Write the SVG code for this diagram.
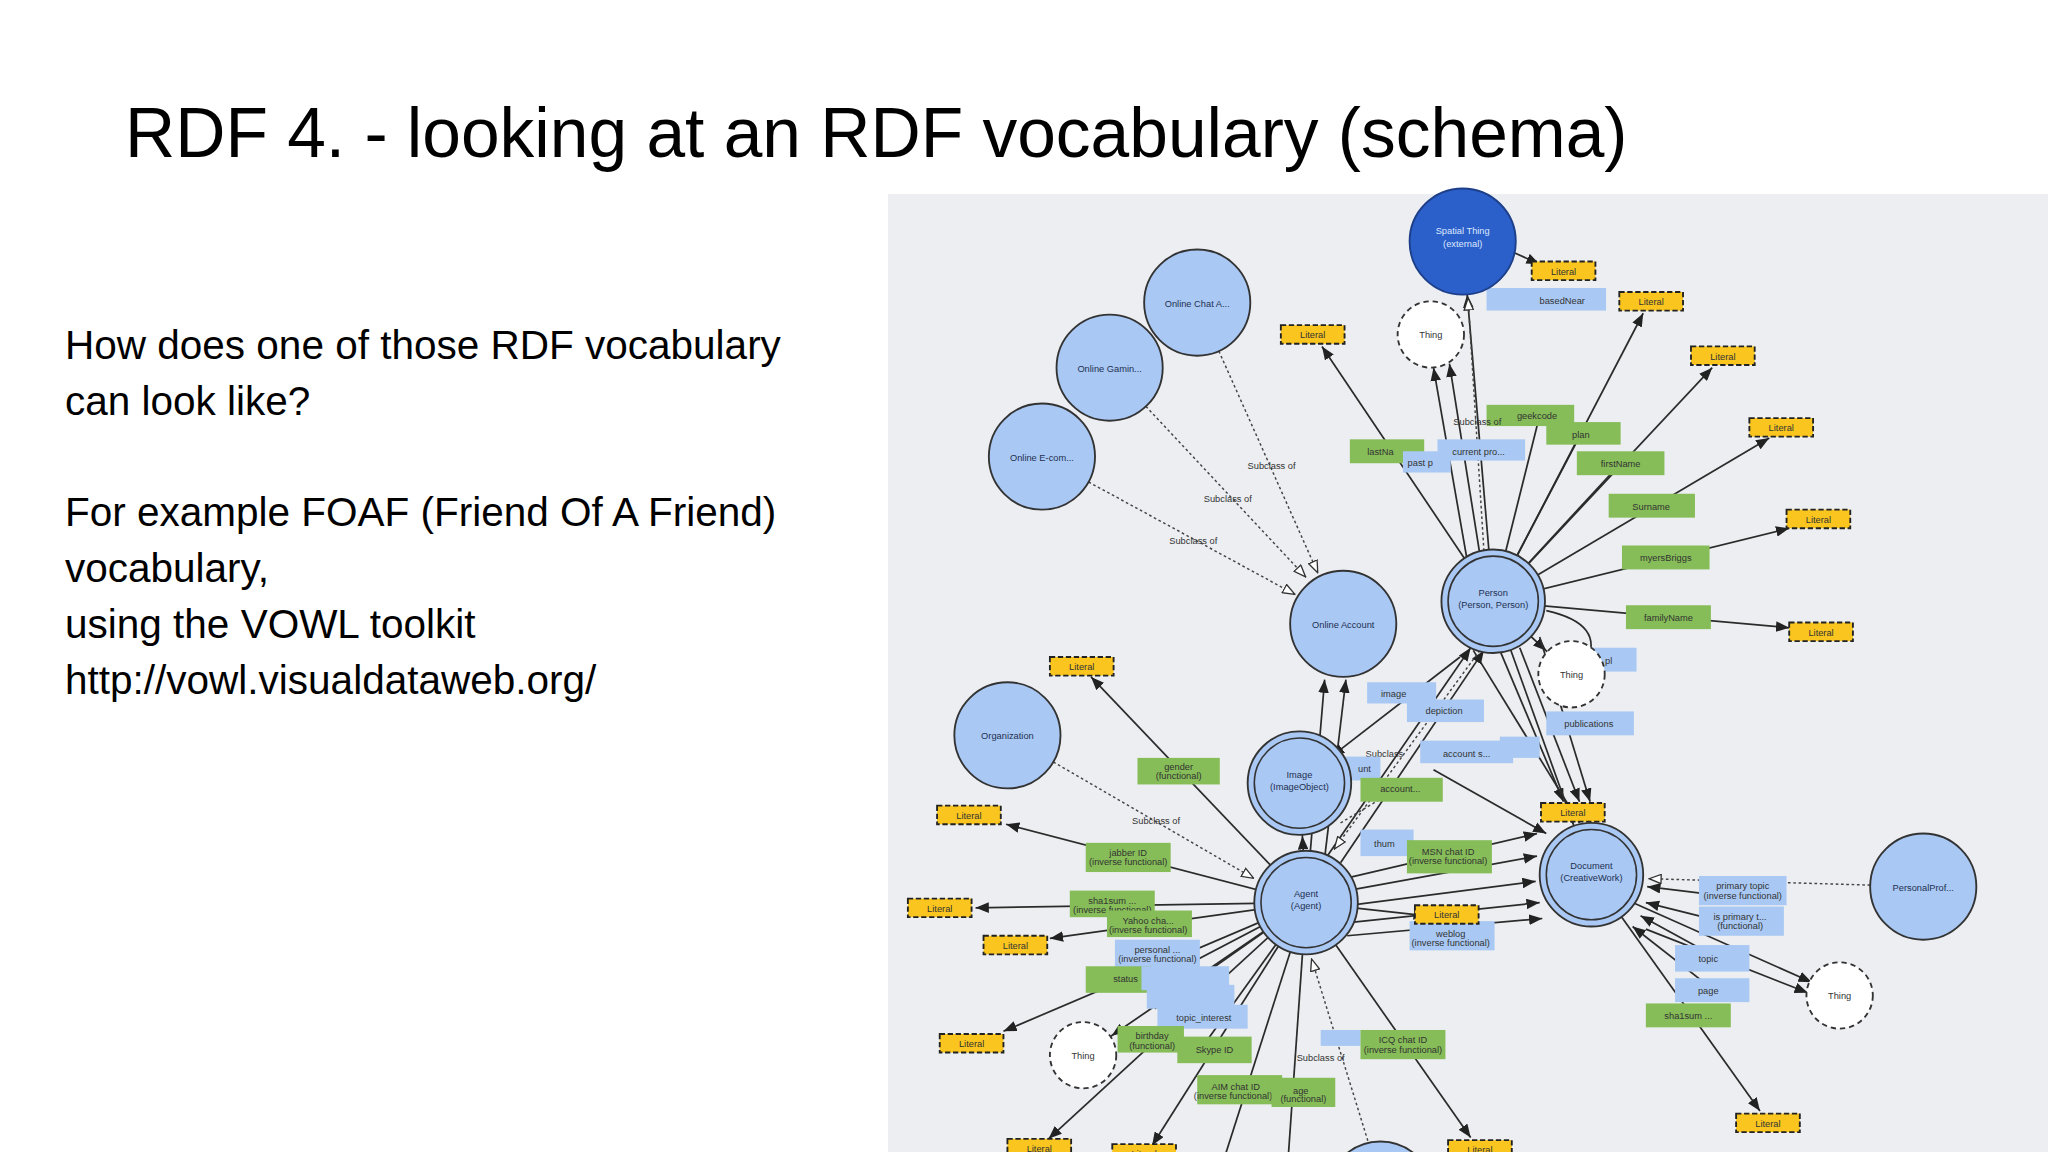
<svg xmlns="http://www.w3.org/2000/svg" width="2048" height="1152" viewBox="0 0 2048 1152">
<style>
.t{font-family:"Liberation Sans",Arial,sans-serif;fill:#000}
.nt{font-family:"Liberation Sans",Arial,sans-serif;fill:#1f3050;font-size:7px;text-anchor:middle}
.st{font-family:"Liberation Sans",Arial,sans-serif;fill:#333;font-size:7px;text-anchor:middle}
.c{fill:#a9c8f4;stroke:#333;stroke-width:1.4}
.th{fill:#fff;stroke:#333;stroke-width:1.4;stroke-dasharray:4 3}
.lit{fill:#f9c51e;stroke:#222;stroke-width:1.4;stroke-dasharray:4 2}
.pb{fill:#a9c9f4}
.pg{fill:#86bd58}
.e{stroke:#2b2b2b;stroke-width:1.3;fill:none}
.d{stroke:#444;stroke-width:1.1;fill:none;stroke-dasharray:2 2}
</style>
<defs>
<marker id="aC" markerUnits="userSpaceOnUse" markerWidth="10" markerHeight="8" refX="50" refY="4" orient="auto"><path d="M0,0 L10,4 L0,8 z" fill="#222"/></marker>
<marker id="aT" markerUnits="userSpaceOnUse" markerWidth="10" markerHeight="8" refX="36" refY="4" orient="auto"><path d="M0,0 L10,4 L0,8 z" fill="#222"/></marker>
<marker id="a" markerUnits="userSpaceOnUse" markerWidth="10" markerHeight="8" refX="10" refY="4" orient="auto"><path d="M0,0 L10,4 L0,8 z" fill="#222"/></marker>
<marker id="o" markerUnits="userSpaceOnUse" markerWidth="10" markerHeight="8" refX="10" refY="4" orient="auto"><path d="M0.5,0.5 L9.5,4 L0.5,7.5 z" fill="#fff" stroke="#333" stroke-width="1"/></marker>
</defs>
<rect width="2048" height="1152" fill="#fff"/>
<text class="t" x="125" y="157" font-size="69.5">RDF 4. - looking at an RDF vocabulary (schema)</text>
<g class="t" font-size="40.5">
<text x="65" y="359">How does one of those RDF vocabulary</text>
<text x="65" y="415">can look like?</text>
<text x="65" y="526">For example FOAF (Friend Of A Friend)</text>
<text x="65" y="582">vocabulary,</text>
<text x="65" y="638">using the VOWL toolkit</text>
<text x="65" y="694">http://vowl.visualdataweb.org/</text>
</g>
<rect x="888" y="194" width="1160" height="958" fill="#eceef1"/>
<g transform="scale(1.3273)">
<g id="connectors">
<line class="e" x1="1125" y1="453" x2="1102" y2="182" marker-end="url(#aC)"/>
<path class="d" d="M1118,415 L1106,224" marker-end="url(#o)"/>
<line class="e" x1="1140" y1="190" x2="1160" y2="199" marker-end="url(#a)"/>
<line class="e" x1="1125" y1="453" x2="1238" y2="236" marker-end="url(#a)"/>
<line class="e" x1="1125" y1="453" x2="1290" y2="277" marker-end="url(#a)"/>
<line class="e" x1="1125" y1="453" x2="1333" y2="330" marker-end="url(#a)"/>
<line class="e" x1="1125" y1="453" x2="1348" y2="398" marker-end="url(#a)"/>
<line class="e" x1="1125" y1="453" x2="1348" y2="473" marker-end="url(#a)"/>
<line class="e" x1="1125" y1="453" x2="996" y2="261" marker-end="url(#a)"/>
<line class="e" x1="1105" y1="420" x2="1080" y2="277" marker-end="url(#a)"/>
<line class="e" x1="1115" y1="418" x2="1092" y2="274" marker-end="url(#a)"/>
<line class="e" x1="1125" y1="453" x2="1160" y2="313"/>
<line class="e" x1="1125" y1="453" x2="1191" y2="327"/>
<line class="e" x1="1125" y1="453" x2="1221" y2="349"/>
<line class="e" x1="1125" y1="453" x2="1184" y2="508" marker-end="url(#aT)"/>
<path class="e" d="M1165,460 Q1210,470 1195,500"/>
<line class="e" x1="1130" y1="490" x2="1178" y2="604" marker-end="url(#a)"/>
<line class="e" x1="1145" y1="488" x2="1190" y2="604" marker-end="url(#a)"/>
<line class="e" x1="1160" y1="480" x2="1198" y2="604" marker-end="url(#a)"/>
<line class="e" x1="1125" y1="453" x2="1199" y2="659" marker-end="url(#aC)"/>
<line class="e" x1="1110" y1="490" x2="1190" y2="620"/>
<line class="e" x1="984" y1="680" x2="998" y2="512" marker-end="url(#a)"/>
<line class="e" x1="994" y1="680" x2="1014" y2="512" marker-end="url(#a)"/>
<line class="e" x1="1000" y1="645" x2="1108" y2="488" marker-end="url(#a)"/>
<line class="e" x1="1010" y1="650" x2="1118" y2="490" marker-end="url(#a)"/>
<line class="e" x1="1100" y1="495" x2="1003" y2="570" marker-end="url(#a)"/>
<path class="d" d="M1115,490 L1005,640" marker-end="url(#o)"/>
<line class="e" x1="984" y1="680" x2="979" y2="590" marker-end="url(#aC)"/>
<line class="e" x1="984" y1="680" x2="822" y2="510" marker-end="url(#a)"/>
<line class="e" x1="984" y1="680" x2="758" y2="621" marker-end="url(#a)"/>
<line class="e" x1="984" y1="680" x2="735" y2="684" marker-end="url(#a)"/>
<line class="e" x1="984" y1="680" x2="791" y2="707" marker-end="url(#a)"/>
<line class="e" x1="984" y1="680" x2="756" y2="777" marker-end="url(#a)"/>
<line class="e" x1="984" y1="680" x2="816" y2="795" marker-end="url(#aT)"/>
<line class="e" x1="984" y1="680" x2="790" y2="858" marker-end="url(#a)"/>
<line class="e" x1="984" y1="680" x2="868" y2="863" marker-end="url(#a)"/>
<line class="e" x1="984" y1="680" x2="1108" y2="857" marker-end="url(#a)"/>
<line class="e" x1="984" y1="680" x2="1075" y2="690" marker-end="url(#a)"/>
<line class="e" x1="984" y1="680" x2="920" y2="880"/>
<line class="e" x1="984" y1="680" x2="970" y2="880"/>
<line class="e" x1="984" y1="680" x2="860" y2="745"/>
<line class="e" x1="984" y1="680" x2="870" y2="760"/>
<line class="e" x1="984" y1="680" x2="905" y2="790"/>
<line class="e" x1="1000" y1="665" x2="1158" y2="628" marker-end="url(#a)"/>
<line class="e" x1="1010" y1="672" x2="1158" y2="645" marker-end="url(#a)"/>
<line class="e" x1="1018" y1="682" x2="1157" y2="664" marker-end="url(#a)"/>
<line class="e" x1="1018" y1="695" x2="1160" y2="680" marker-end="url(#a)"/>
<line class="e" x1="1015" y1="705" x2="1162" y2="692" marker-end="url(#a)"/>
<line class="e" x1="1080" y1="580" x2="1165" y2="628" marker-end="url(#a)"/>
<path class="d" d="M759,554 L945,662" marker-end="url(#o)"/>
<path class="d" d="M1040,890 L988,722" marker-end="url(#o)"/>
<path class="d" d="M902,228 L993,432" marker-end="url(#o)"/>
<path class="d" d="M836,277 L984,435" marker-end="url(#o)"/>
<path class="d" d="M785,344 L976,448" marker-end="url(#o)"/>
<path class="d" d="M1449,668 L1242,662" marker-end="url(#o)"/>
<path class="d" d="M1010,620 L1060,590"/>
<line class="e" x1="1230" y1="680" x2="1365" y2="740" marker-end="url(#a)"/>
<line class="e" x1="1240" y1="700" x2="1362" y2="748" marker-end="url(#a)"/>
<line class="e" x1="1199" y1="659" x2="1326" y2="837" marker-end="url(#a)"/>
<line class="e" x1="1340" y1="680" x2="1241" y2="668" marker-end="url(#a)"/>
<line class="e" x1="1320" y1="700" x2="1240" y2="680" marker-end="url(#a)"/>
<line class="e" x1="1300" y1="725" x2="1236" y2="690" marker-end="url(#a)"/>
<line class="e" x1="1290" y1="745" x2="1230" y2="698" marker-end="url(#a)"/>
</g>
<g id="properties">
<rect class="pg" x="1120" y="305" width="66" height="16"/><text class="st" x="1158" y="316">geekcode</text>
<rect class="pg" x="1165" y="318" width="56" height="17"/><text class="st" x="1191" y="330">plan</text>
<rect class="pg" x="1188" y="340" width="66" height="18"/><text class="st" x="1221" y="352">firstName</text>
<rect class="pg" x="1212" y="372" width="65" height="18"/><text class="st" x="1244" y="384">Surname</text>
<rect class="pg" x="1222" y="411" width="66" height="18"/><text class="st" x="1255" y="423">myersBriggs</text>
<rect class="pg" x="1225" y="456" width="64" height="18"/><text class="st" x="1257" y="468">familyName</text>
<rect class="pg" x="1017" y="331" width="56" height="18"/><text class="st" x="1040" y="343">lastNa</text>
<rect class="pb" x="1057" y="340" width="36" height="16"/><text class="st" x="1070" y="351">past p</text>
<rect class="pb" x="1083" y="331" width="66" height="16"/><text class="st" x="1114" y="343">current pro...</text>
<text class="st" x="1113" y="320">Subclass of</text>
<rect class="pb" x="1120" y="217" width="90" height="17"/><text class="st" x="1177" y="229">basedNear</text>
<rect class="pb" x="1195" y="488" width="38" height="18"/><text class="st" x="1212" y="500">pl</text>
<rect class="pb" x="1030" y="514" width="52" height="16"/><text class="st" x="1050" y="525">image</text>
<rect class="pb" x="1060" y="527" width="58" height="17"/><text class="st" x="1088" y="538">depiction</text>
<rect class="pb" x="1165" y="536" width="66" height="18"/><text class="st" x="1197" y="548">publications</text>
<rect class="pb" x="1070" y="558" width="70" height="17"/><text class="st" x="1105" y="570">account s...</text>
<rect class="pb" x="1130" y="555" width="30" height="16"/>
<text class="st" x="1043" y="570">Subclass</text>
<rect class="pb" x="1010" y="570" width="30" height="18"/><text class="st" x="1028" y="582">unt</text>
<rect class="pg" x="1025" y="586" width="62" height="18"/><text class="st" x="1055" y="597">account...</text>
<rect class="pb" x="1025" y="625" width="40" height="20"/><text class="st" x="1043" y="638">thum</text>
<rect class="pg" x="1060" y="633" width="64" height="25"/><text class="st" x="1091" y="644">MSN chat ID</text><text class="st" x="1091" y="651" font-size="5">(inverse functional)</text>
<rect class="pb" x="1062" y="694" width="64" height="22"/><text class="st" x="1093" y="706">weblog</text><text class="st" x="1093" y="713" font-size="5">(inverse functional)</text>
<rect class="pg" x="857" y="571" width="62" height="20"/><text class="st" x="888" y="580">gender</text><text class="st" x="888" y="587" font-size="5">(functional)</text>
<text class="st" x="871" y="621">Subclass of</text>
<rect class="pg" x="818" y="635" width="64" height="22"/><text class="st" x="850" y="645">jabber ID</text><text class="st" x="850" y="652" font-size="5">(inverse functional)</text>
<rect class="pg" x="806" y="671" width="64" height="20"/><text class="st" x="838" y="681">sha1sum ...</text><text class="st" x="838" y="688" font-size="5">(inverse functional)</text>
<rect class="pg" x="834" y="686" width="64" height="20"/><text class="st" x="865" y="696">Yahoo cha...</text><text class="st" x="865" y="703" font-size="5">(inverse functional)</text>
<rect class="pb" x="840" y="708" width="64" height="22"/><text class="st" x="872" y="718">personal ...</text><text class="st" x="872" y="725" font-size="5">(inverse functional)</text>
<rect class="pg" x="818" y="728" width="50" height="20"/><text class="st" x="848" y="740">status</text>
<rect class="pb" x="860" y="728" width="66" height="18"/>
<rect class="pb" x="864" y="742" width="66" height="18"/>
<rect class="pb" x="872" y="757" width="68" height="18"/><text class="st" x="907" y="769">topic_interest</text>
<rect class="pg" x="842" y="773" width="50" height="20"/><text class="st" x="868" y="783">birthday</text><text class="st" x="868" y="790" font-size="5">(functional)</text>
<rect class="pg" x="887" y="781" width="56" height="20"/><text class="st" x="915" y="793">Skype ID</text>
<rect class="pg" x="902" y="810" width="64" height="22"/><text class="st" x="931" y="821">AIM chat ID</text><text class="st" x="929" y="828" font-size="5">(inverse functional)</text>
<rect class="pg" x="958" y="812" width="48" height="22"/><text class="st" x="980" y="824">age</text><text class="st" x="982" y="830" font-size="5">(functional)</text>
<text class="st" x="995" y="799">Subclass of</text>
<rect class="pb" x="995" y="776" width="30" height="12"/>
<rect class="pg" x="1025" y="776" width="64" height="22"/><text class="st" x="1057" y="786">ICQ chat ID</text><text class="st" x="1057" y="793" font-size="5">(inverse functional)</text>
<rect class="pb" x="1280" y="660" width="66" height="22"/><text class="st" x="1313" y="670">primary topic</text><text class="st" x="1313" y="677" font-size="5">(inverse functional)</text>
<rect class="pb" x="1280" y="683" width="64" height="22"/><text class="st" x="1311" y="693">is primary t...</text><text class="st" x="1311" y="700" font-size="5">(functional)</text>
<rect class="pb" x="1262" y="712" width="56" height="20"/><text class="st" x="1287" y="725">topic</text>
<rect class="pb" x="1262" y="737" width="56" height="18"/><text class="st" x="1287" y="749">page</text>
<rect class="pg" x="1240" y="756" width="64" height="18"/><text class="st" x="1272" y="768">sha1sum ...</text>
<text class="st" x="958" y="353">Subclass of</text>
<text class="st" x="925" y="378">Subclass of</text>
<text class="st" x="899" y="410">Subclass of</text>
</g>
<g id="literals">
<rect class="lit" x="1154" y="197" width="48" height="14"/><text class="st" x="1178" y="207">Literal</text>
<rect class="lit" x="1220" y="220" width="48" height="14"/><text class="st" x="1244" y="230">Literal</text>
<rect class="lit" x="965" y="245" width="48" height="14"/><text class="st" x="989" y="255">Literal</text>
<rect class="lit" x="1274" y="261" width="48" height="14"/><text class="st" x="1298" y="271">Literal</text>
<rect class="lit" x="1318" y="315" width="48" height="14"/><text class="st" x="1342" y="325">Literal</text>
<rect class="lit" x="1346" y="384" width="48" height="14"/><text class="st" x="1370" y="394">Literal</text>
<rect class="lit" x="1348" y="469" width="48" height="14"/><text class="st" x="1372" y="479">Literal</text>
<rect class="lit" x="791" y="495" width="48" height="14"/><text class="st" x="815" y="505">Literal</text>
<rect class="lit" x="706" y="607" width="48" height="14"/><text class="st" x="730" y="617">Literal</text>
<rect class="lit" x="684" y="677" width="48" height="14"/><text class="st" x="708" y="687">Literal</text>
<rect class="lit" x="741" y="705" width="48" height="14"/><text class="st" x="765" y="715">Literal</text>
<rect class="lit" x="1161" y="605" width="48" height="14"/><text class="st" x="1185" y="615">Literal</text>
<rect class="lit" x="1066" y="682" width="48" height="14"/><text class="st" x="1090" y="692">Literal</text>
<rect class="lit" x="708" y="779" width="48" height="14"/><text class="st" x="732" y="789">Literal</text>
<rect class="lit" x="759" y="858" width="48" height="14"/><text class="st" x="783" y="868">Literal</text>
<rect class="lit" x="838" y="862" width="48" height="14"/><text class="st" x="862" y="872">Literal</text>
<rect class="lit" x="1091" y="859" width="48" height="14"/><text class="st" x="1115" y="869">Literal</text>
<rect class="lit" x="1308" y="839" width="48" height="14"/><text class="st" x="1332" y="849">Literal</text>
</g>
<g id="n-spatial"><circle cx="1102" cy="182" r="40" fill="#2b5fc9" stroke="#1d3f8a" stroke-width="1.4"/><text class="nt" x="1102" y="176" style="fill:#dde8ff">Spatial Thing</text><text class="nt" x="1102" y="186" font-size="5" style="fill:#dde8ff">(external)</text></g>
<g id="n-chat"><circle class="c" cx="902" cy="228" r="40"/><text class="nt" x="902" y="231">Online Chat A...</text></g>
<g id="n-gaming"><circle class="c" cx="836" cy="277" r="40"/><text class="nt" x="836" y="280">Online Gamin...</text></g>
<g id="n-ecom"><circle class="c" cx="785" cy="344" r="40"/><text class="nt" x="785" y="347">Online E-com...</text></g>
<g id="n-account"><circle class="c" cx="1012" cy="470" r="40"/><text class="nt" x="1012" y="473">Online Account</text></g>
<g id="n-person"><circle class="c" cx="1125" cy="453" r="39"/><circle cx="1125" cy="453" r="34" fill="none" stroke="#333" stroke-width="1.2"/><text class="nt" x="1125" y="449">Person</text><text class="nt" x="1125" y="458" font-size="5">(Person, Person)</text></g>
<g id="n-thing1"><circle class="th" cx="1078" cy="252" r="25"/><text class="st" x="1078" y="255">Thing</text></g>
<g id="n-thing2"><circle class="th" cx="1184" cy="508" r="25"/><text class="st" x="1184" y="511">Thing</text></g>
<g id="n-org"><circle class="c" cx="759" cy="554" r="40"/><text class="nt" x="759" y="557">Organization</text></g>
<g id="n-image"><circle class="c" cx="979" cy="590" r="39"/><circle cx="979" cy="590" r="34" fill="none" stroke="#333" stroke-width="1.2"/><text class="nt" x="979" y="586">Image</text><text class="nt" x="979" y="595" font-size="5">(ImageObject)</text></g>
<g id="n-agent"><circle class="c" cx="984" cy="680" r="39"/><circle cx="984" cy="680" r="34" fill="none" stroke="#333" stroke-width="1.2"/><text class="nt" x="984" y="676">Agent</text><text class="nt" x="984" y="685" font-size="5">(Agent)</text></g>
<g id="n-document"><circle class="c" cx="1199" cy="659" r="39"/><circle cx="1199" cy="659" r="34" fill="none" stroke="#333" stroke-width="1.2"/><text class="nt" x="1199" y="655">Document</text><text class="nt" x="1199" y="664" font-size="5">(CreativeWork)</text></g>
<g id="n-pprof"><circle class="c" cx="1449" cy="668" r="40"/><text class="nt" x="1449" y="671">PersonalProf...</text></g>
<g id="n-thing3"><circle class="th" cx="1386" cy="750" r="25"/><text class="st" x="1386" y="753">Thing</text></g>
<g id="n-thing4"><circle class="th" cx="816" cy="795" r="25"/><text class="st" x="816" y="798">Thing</text></g>
<g id="n-bottom"><circle class="c" cx="1040" cy="900" r="40"/></g>
</g>
</svg>
